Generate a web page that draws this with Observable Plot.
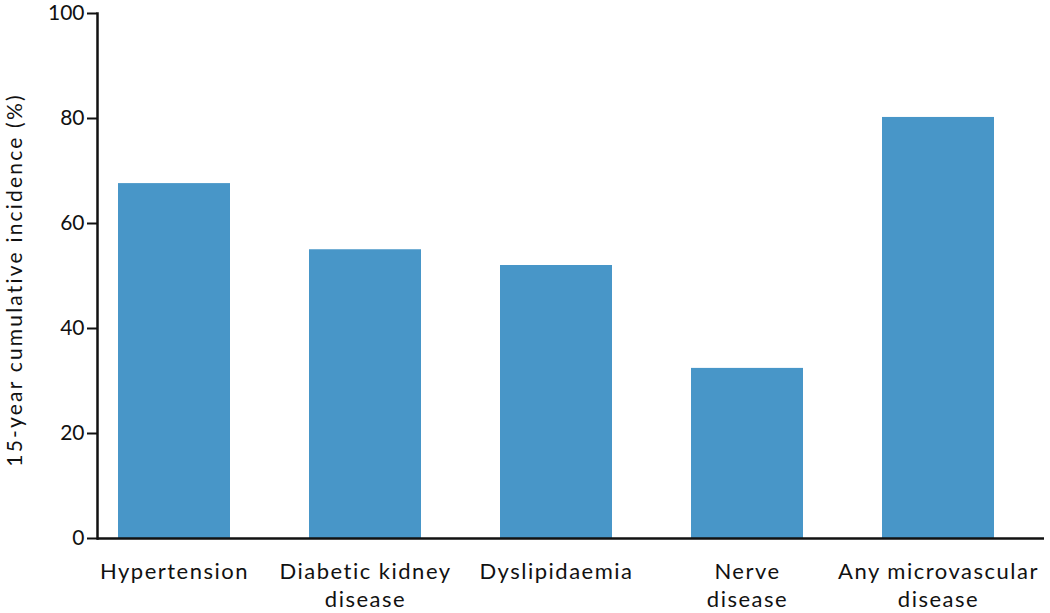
<!DOCTYPE html>
<html>
<head>
<meta charset="utf-8">
<script src="https://cdn.jsdelivr.net/npm/d3@7"></script>
<script src="https://cdn.jsdelivr.net/npm/@observablehq/plot@0.6"></script>
<style>
  html, body { margin: 0; padding: 0; background: #fff; }
  #chart { width: 1050px; height: 613px; }
  g[aria-label="x-axis tick label"] text { letter-spacing: 1.5px; }
  text[aria-label="y-title"], g[aria-label="y-title"] text { letter-spacing: 2.2px; }
</style>
</head>
<body>
<div id="chart"></div>
<script>
const categories = ["Hypertension", "Diabetic kidney disease", "Dyslipidaemia", "Nerve disease", "Any microvascular disease"];
const tickLabels = ["Hypertension", "Diabetic kidney\ndisease", "Dyslipidaemia", "Nerve\ndisease", "Any microvascular\ndisease"];
const values = [67.6, 55.0, 52.0, 32.4, 80.2];
const yTicks = [0, 20, 40, 60, 80, 100];
const yLabel = "15-year cumulative incidence (%)";

const data = categories.map((c, i) => ({category: c, value: values[i]}));
const labelOf = new Map(categories.map((c, i) => [c, tickLabels[i]]));

const chart = Plot.plot({
  width: 1050,
  height: 613,
  marginLeft: 97,
  marginRight: 6,
  marginTop: 13,
  marginBottom: 75,
  style: {fontFamily: "Lato, sans-serif", color: "#111", background: "#fff"},
  x: {domain: categories, paddingInner: 0.416, paddingOuter: 0.177, align: 0.29},
  y: {domain: [0, 100]},
  marks: [
    Plot.barY(data, {x: "category", y: "value", fill: "#4896c8"}),
    Plot.axisY({ticks: yTicks, tickSize: 10, tickPadding: 3, fontSize: 21, label: null, stroke: "#111", strokeWidth: 2}),
    Plot.axisX({tickSize: 0, tickPadding: 20, fontSize: 22, tickFormat: d => labelOf.get(d), lineHeight: 1.28, label: null}),
    Plot.text([yLabel], {ariaLabel: () => "y-title", frameAnchor: "left", textAnchor: "middle", rotate: -90, dx: -82, dy: 4, fontSize: 21, fill: "#111"}),
    Plot.frame({anchor: "left", stroke: "#111", strokeWidth: 2.5}),
    Plot.ruleY([0], {stroke: "#111", strokeWidth: 2.5})
  ]
});
document.getElementById("chart").appendChild(chart);
</script>
</body>
</html>
